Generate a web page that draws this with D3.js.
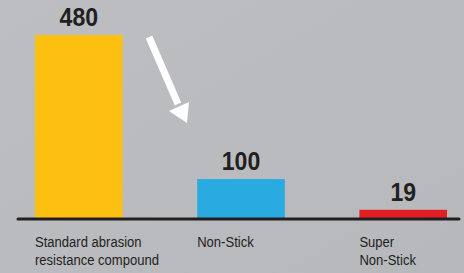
<!DOCTYPE html>
<html>
<head>
<meta charset="utf-8">
<script src="https://cdn.jsdelivr.net/npm/d3@7"></script>
<style>
  html, body { margin: 0; padding: 0; background: #b9babe; }
  svg { display: block; }
  .val { font-family: "Liberation Sans", Arial, sans-serif; font-weight: bold; font-size: 26.5px; fill: #231f20; }
  .cat { font-family: "Liberation Sans", Arial, sans-serif; font-size: 15px; fill: #231f20; }
</style>
</head>
<body>
<div id="chart"></div>
<script>
const categories = ["Standard abrasion|resistance compound", "Non-Stick", "Super|Non-Stick"];
const values = [480, 100, 19];
const colors = ["#fdc010", "#29abe2", "#e31e24"];

const width = 464, height = 273;
const narrow = 0.87; // condensed look

const svg = d3.select("#chart").append("svg")
    .attr("width", width)
    .attr("height", height);

// background with a light sheen
const defs = svg.append("defs");
const grad = defs.append("linearGradient")
    .attr("id", "bg")
    .attr("x1", 0).attr("y1", 0).attr("x2", 1).attr("y2", 1);
grad.append("stop").attr("offset", "0%").attr("stop-color", "#bdbec2");
grad.append("stop").attr("offset", "100%").attr("stop-color", "#b7b8bc");
svg.append("rect")
    .attr("width", width).attr("height", height)
    .attr("fill", "url(#bg)");

const x = d3.scaleBand()
    .domain(categories)
    .range([35, 447])
    .paddingInner(0.46)
    .paddingOuter(0);

const y = d3.scaleLinear()
    .domain([0, 480])
    .range([217, 35]);

// bars
svg.append("g")
    .selectAll("rect")
    .data(values)
    .enter().append("rect")
    .attr("x", (d, i) => x(categories[i]))
    .attr("y", d => y(d))
    .attr("width", x.bandwidth())
    .attr("height", d => y(0) - y(d) + 1)
    .attr("fill", (d, i) => colors[i]);

// value labels
svg.append("g")
    .selectAll("text")
    .data(values)
    .enter().append("text")
    .attr("class", "val")
    .attr("transform", (d, i) => `translate(${x(categories[i]) + x.bandwidth() / 2},${y(d) - 9}) scale(${narrow},1)`)
    .attr("text-anchor", "middle")
    .text(d => d);

// baseline
svg.append("line")
    .attr("x1", 18).attr("x2", 459)
    .attr("y1", y(0) + 2).attr("y2", y(0) + 2)
    .attr("stroke", "#231f20")
    .attr("stroke-width", 3)
    .attr("stroke-linecap", "round");

// category labels
const cat = svg.append("g")
    .selectAll("text")
    .data(categories)
    .enter().append("text")
    .attr("class", "cat")
    .attr("transform", d => `translate(${x(d)},247) scale(${narrow},1)`);

cat.selectAll("tspan")
    .data(d => d.split("|"))
    .enter().append("tspan")
    .attr("x", 0)
    .attr("dy", (t, i) => i ? 18 : 0)
    .text(t => t);

// white arrow
const arrow = svg.append("g").attr("fill", "#ffffff");
arrow.append("line")
    .attr("x1", 149).attr("y1", 37)
    .attr("x2", 178).attr("y2", 104)
    .attr("stroke", "#ffffff")
    .attr("stroke-width", 7);
arrow.append("path")
    .attr("d", "M187,123 L169,111 L189,102 Z");
</script>
</body>
</html>
